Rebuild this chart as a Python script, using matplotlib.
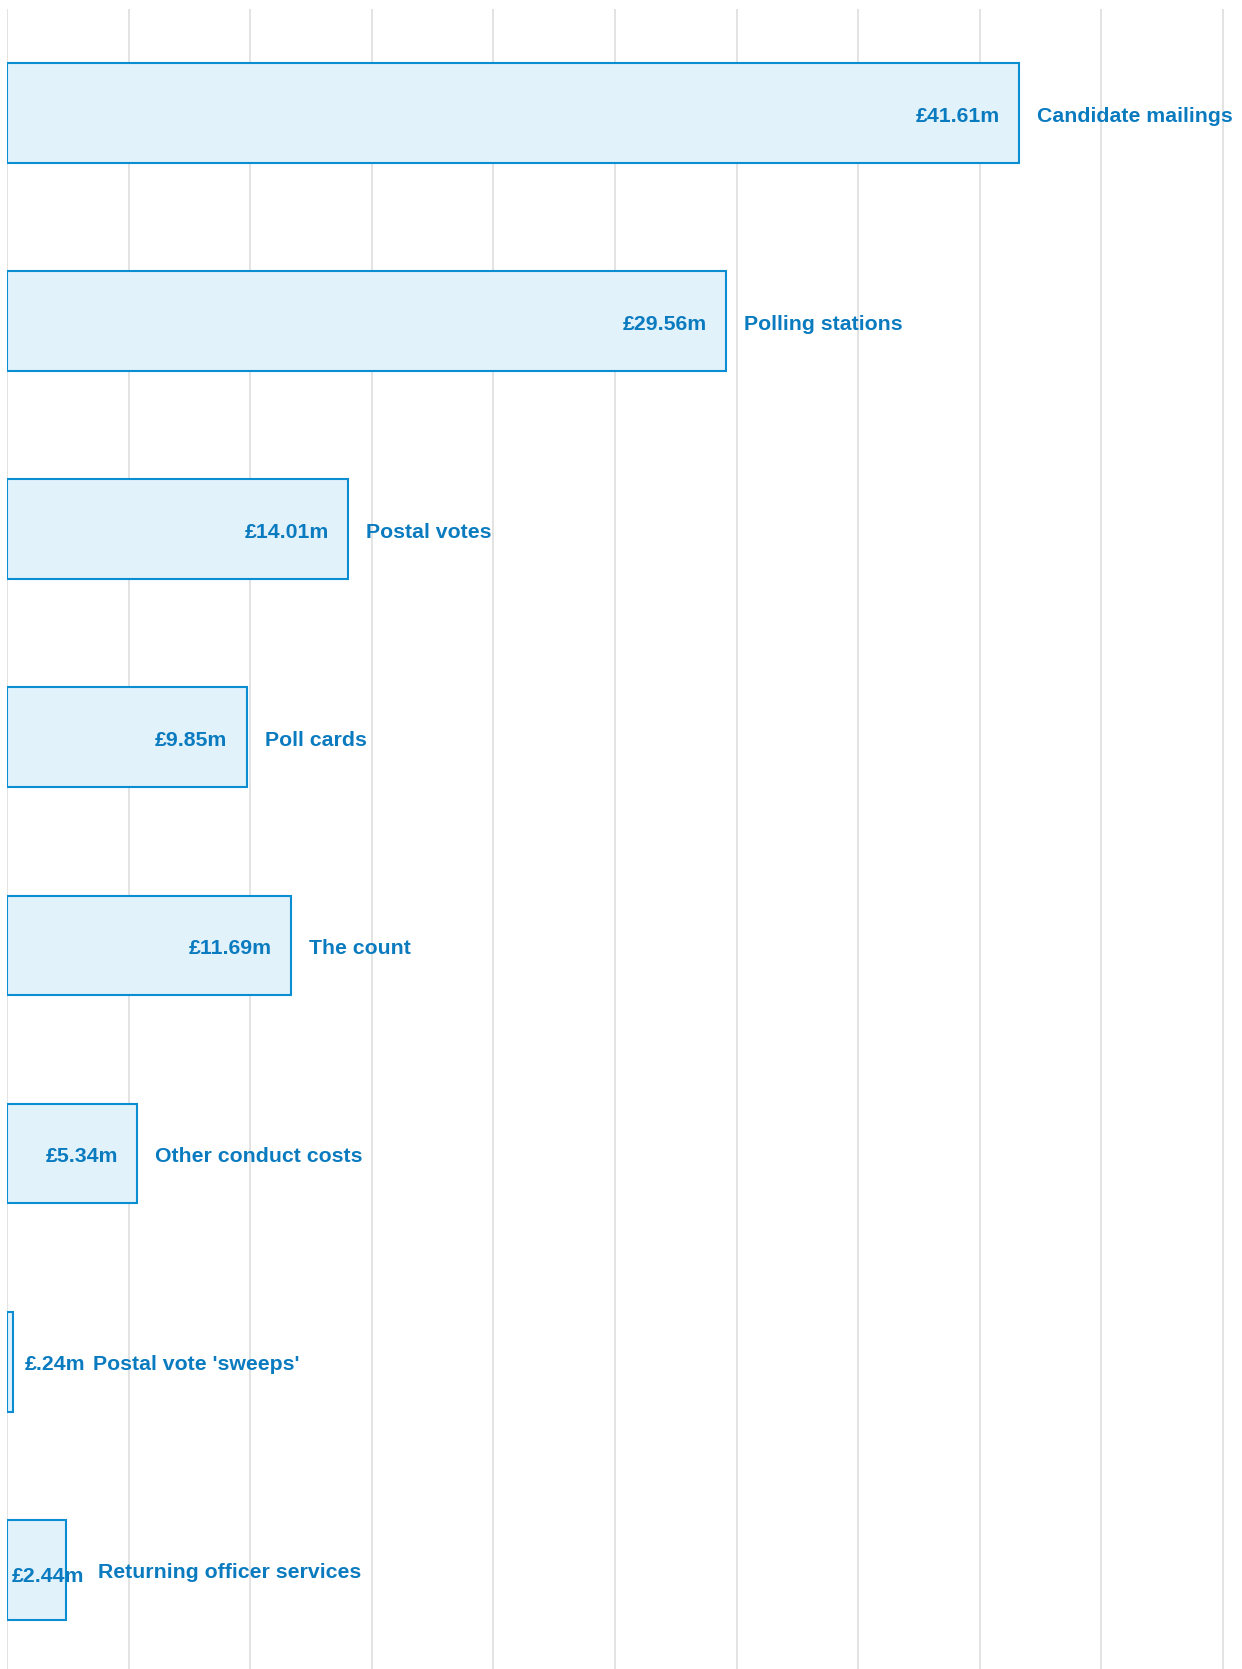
import matplotlib.pyplot as plt

plt.rcParams['font.family'] = ['Liberation Sans', 'DejaVu Sans']

categories = ['Candidate mailings', 'Polling stations', 'Postal votes', 'Poll cards',
              'The count', 'Other conduct costs', "Postal vote 'sweeps'",
              'Returning officer services']
values = [41.61, 29.56, 14.01, 9.85, 11.69, 5.34, 0.24, 2.44]
value_labels = ['£41.61m', '£29.56m', '£14.01m', '£9.85m', '£11.69m', '£5.34m',
                '£.24m', '£2.44m']
grid_ticks = list(range(0, 51, 5))

edge_col = '#0b8ed1'
fill_col = '#e2f2fb'
text_col = '#0b7bc0'

W, H = 1242, 1669
fig = plt.figure(figsize=(W / 100, H / 100), dpi=100)
ax = fig.add_axes([7 / W, 0, 1 - 7 / W, 1 - 9 / H])

ypos = list(range(len(categories)))
ax.barh(ypos, values, height=0.48, color=fill_col, edgecolor=edge_col,
        linewidth=1.5, zorder=2)

# label placement: (value anchor x, value offset px, value ha, category offset px)
special = {
    "Postal vote 'sweeps'": ('end', 12, 'left', 80),
    'Returning officer services': ('zero', 5, 'left', 32),
}

for y, v, lab, cat in zip(ypos, values, value_labels, categories):
    if cat in special:
        anchor, voff, vha, coff = special[cat]
        vx = v if anchor == 'end' else 0
        dy = -4 if anchor == 'zero' else 0
    else:
        vx, voff, vha, coff, dy = v, -19, 'right', 18, 0
    ax.annotate(lab, (vx, y), xytext=(voff, dy - 1), textcoords='offset pixels',
                ha=vha, va='center_baseline', fontsize=15.3, fontweight='bold',
                color=text_col, zorder=3, annotation_clip=False)
    ax.annotate(cat, (v, y), xytext=(coff, -1), textcoords='offset pixels',
                ha='left', va='center_baseline', fontsize=15.3, fontweight='bold',
                color=text_col, zorder=3, annotation_clip=False)

ax.set_xlim(0, (W - 7) / 24.32)
ax.set_ylim(-0.5 + (H - 9) / 208.1, -0.5)
ax.set_xticks(grid_ticks)
ax.set_yticks([])
ax.grid(axis='x', color='#e0e0e0', linewidth=1.3)
ax.set_axisbelow(True)
ax.tick_params(axis='x', length=0, labelbottom=False)
for s in ax.spines.values():
    s.set_visible(False)

plt.savefig('out.png', dpi=100)
